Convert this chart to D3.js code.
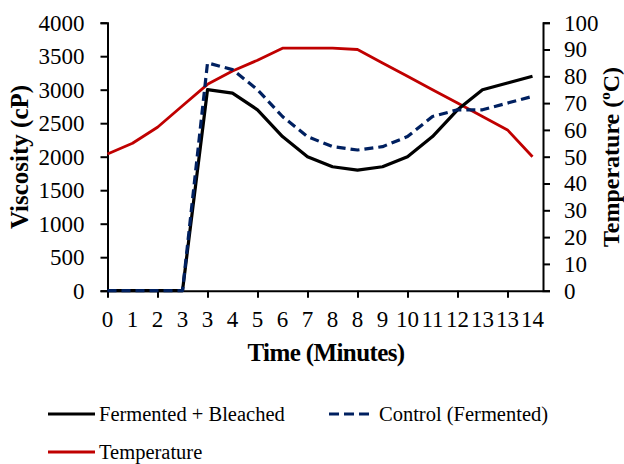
<!DOCTYPE html>
<html><head><meta charset="utf-8">
<script src="https://cdn.jsdelivr.net/npm/d3@7"></script>
<style>body{margin:0;background:#fff}svg{display:block}</style>
</head><body><svg id="c" width="624" height="464"></svg>
<script>
const categories = ["0","1","2","3","3","4","5","6","7","8","8","9","10","11","12","13","13","14"];
const fermentedBleached = [0,0,0,0,3000,2950,2700,2300,2000,1850,1800,1850,2000,2300,2700,3000,3100,3200];
const controlFermented = [0,0,0,0,3400,3300,3000,2600,2300,2150,2100,2150,2300,2600,2700,2700,2800,2900];
const temperature = [51,55,61,69,77,82,86,90.5,90.5,90.5,90,85,80,75,70,65,60,50];
const leftTicks = [0,500,1000,1500,2000,2500,3000,3500,4000];
const rightTicks = [0,10,20,30,40,50,60,70,80,90,100];

const FONT = "'Times New Roman', 'Liberation Serif', Tinos, 'DejaVu Serif', serif";
const svg = d3.select("#c");
const L = 107.5, R = 543, T = 22.7, B = 290.7;
const step = 25;
const idx = categories.map((d,i)=>i);
const x = d3.scaleLinear().domain([0, (R-L)/step]).range([L, R]);
const yL = d3.scaleLinear().domain([0,4000]).range([B,T]);
const yR = d3.scaleLinear().domain([0,100]).range([B,T]);

// axes
const axL = svg.append("g").attr("transform",`translate(${L},0)`)
  .call(d3.axisLeft(yL).tickValues(leftTicks).tickSize(7).tickPadding(16).tickFormat(d3.format("d")));
const axR = svg.append("g").attr("transform",`translate(${R},0)`)
  .call(d3.axisRight(yR).tickValues(rightTicks).tickSize(7).tickPadding(14).tickFormat(d3.format("d")));
const axB = svg.append("g").attr("transform",`translate(0,${B})`)
  .call(d3.axisBottom(x).tickValues(idx.filter(i=>i%2===0)).tickSize(7).tickFormat(""));
[axL,axR,axB].forEach(a=>{
  a.attr("font-family",null).attr("font-size",null);
  a.selectAll("path").attr("stroke","#000").attr("stroke-width",2);
  a.selectAll("line").attr("stroke","#000").attr("stroke-width",2);
  a.selectAll("text").attr("font-size",23).attr("fill","#000");
});
axB.select("path").attr("d",`M${L},0.5H${R}`);
// category labels
svg.append("g").selectAll("text").data(categories).join("text")
  .attr("x",(d,i)=>x(i)).attr("y",327).attr("text-anchor","middle")
  .attr("font-size",23).text(d=>d);

// lines
const lineL = d3.line().x((d,i)=>x(i)).y(d=>yL(d));
const lineR = d3.line().x((d,i)=>x(i)).y(d=>yR(d));
svg.append("path").datum(temperature).attr("d",lineR).attr("fill","none").attr("stroke","#C00000").attr("stroke-width",2.8).attr("stroke-linejoin","round");
svg.append("path").datum(fermentedBleached).attr("d",lineL).attr("fill","none").attr("stroke","#000").attr("stroke-width",3.2).attr("stroke-linejoin","round");
svg.append("path").datum(controlFermented).attr("d",lineL).attr("fill","none").attr("stroke","#002060").attr("stroke-width",3.2).attr("stroke-dasharray","9,5").attr("stroke-linejoin","round");

// titles
svg.append("text").attr("transform","translate(28,157) rotate(-90)").attr("text-anchor","middle")
  .attr("font-size",25).attr("font-weight","bold").text("Viscosity (cP)");
const tt = svg.append("text").attr("transform","translate(619,157) rotate(-90)").attr("text-anchor","middle")
  .attr("font-size",24).attr("font-weight","bold");
tt.append("tspan").text("Temperature (");
tt.append("tspan").attr("font-size",15).attr("dy",-9).text("o");
tt.append("tspan").attr("dy",9).text("C)");
svg.append("text").attr("x",326).attr("y",361).attr("text-anchor","middle")
  .attr("font-size",25).attr("font-weight","bold").attr("letter-spacing",-0.6).text("Time (Minutes)");

// legend
const legend = [
  {name:"Fermented + Bleached", color:"#000", dash:null, x:48, len:47, tx:99, y:414},
  {name:"Control (Fermented)", color:"#002060", dash:"10,5", x:329, len:42, tx:379, y:414},
  {name:"Temperature", color:"#C00000", dash:null, x:48, len:47, tx:99, y:452}
];
const lg = svg.append("g").selectAll("g").data(legend).join("g");
lg.append("line").attr("x1",d=>d.x).attr("x2",d=>d.x+d.len).attr("y1",d=>d.y).attr("y2",d=>d.y)
  .attr("stroke",d=>d.color).attr("stroke-width",3.2).attr("stroke-dasharray",d=>d.dash);
lg.append("text").attr("x",d=>d.tx).attr("y",d=>d.y+6.5).attr("font-size",20.5).text(d=>d.name);

svg.selectAll("text").style("font-family",FONT);
</script></body></html>
